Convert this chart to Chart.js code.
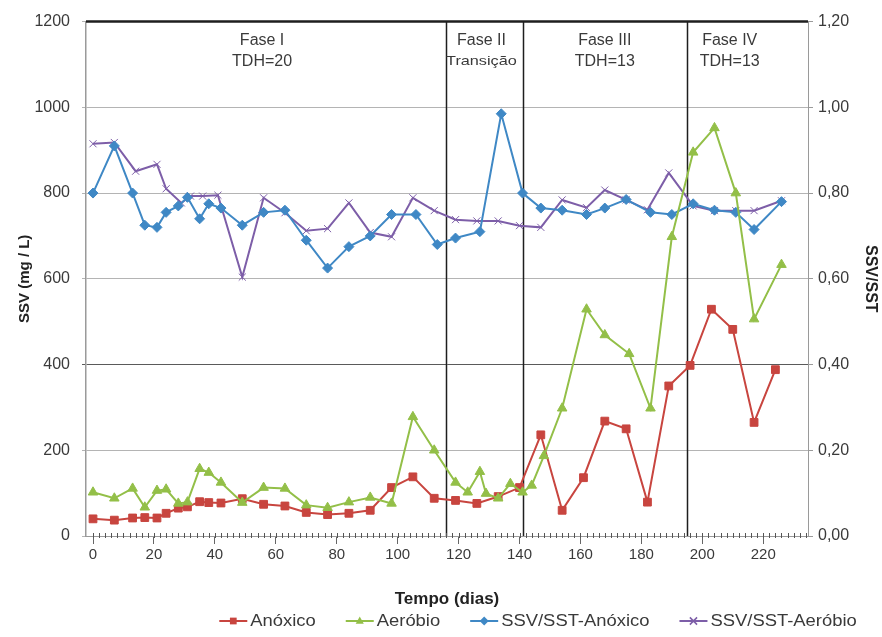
<!DOCTYPE html>
<html>
<head>
<meta charset="utf-8">
<script src="https://cdn.jsdelivr.net/npm/chart.js@4.4.1/dist/chart.umd.min.js"></script>
<style>
  html, body { margin: 0; padding: 0; background: #ffffff; }
  #wrap { width: 882px; height: 637px; }
</style>
</head>
<body>
<div id="wrap"><canvas id="grafico" width="882" height="637"></canvas></div>
<script>
// SSV (mg/L) no reator anóxico
const diasAnoxico = [0, 7, 13, 17, 21, 24, 28, 31, 35, 38, 42, 49, 56, 63, 70, 77, 84, 91, 98, 105, 112, 119, 126, 133, 140, 147, 154, 161, 168, 175, 182, 189, 196, 203, 210, 217, 224];
const ssvAnoxico  = [40, 37, 42, 43, 42, 53, 65, 68, 80, 78, 77, 87, 74, 70, 55, 50, 53, 60, 113, 138, 88, 83, 76, 92, 113, 236, 60, 136, 268, 250, 79, 350, 398, 529, 482, 265, 388];

// SSV (mg/L) no reator aeróbio
const diasAerobio = [0, 7, 13, 17, 21, 24, 28, 31, 35, 38, 42, 49, 56, 63, 70, 77, 84, 91, 98, 105, 112, 119, 123, 127, 129, 133, 137, 141, 144, 148, 154, 162, 168, 176, 183, 190, 197, 204, 211, 217, 226];
const ssvAerobio  = [102, 88, 111, 67, 106, 109, 76, 79, 157, 148, 125, 78, 113, 111, 72, 66, 79, 90, 76, 278, 200, 125, 102, 150, 99, 88, 122, 102, 118, 187, 298, 529, 469, 425, 298, 698, 895, 952, 800, 506, 633];

// Relação SSV/SST no reator anóxico
const diasRelAnoxico = [0, 7, 13, 17, 21, 24, 28, 31, 35, 38, 42, 49, 56, 63, 70, 77, 84, 91, 98, 106, 113, 119, 127, 134, 141, 147, 154, 162, 168, 175, 183, 190, 197, 204, 211, 217, 226];
const relAnoxico     = [0.80, 0.91, 0.80, 0.725, 0.72, 0.755, 0.77, 0.79, 0.74, 0.775, 0.765, 0.725, 0.755, 0.76, 0.69, 0.625, 0.675, 0.70, 0.75, 0.75, 0.68, 0.695, 0.71, 0.985, 0.80, 0.765, 0.76, 0.75, 0.765, 0.785, 0.755, 0.75, 0.775, 0.76, 0.755, 0.715, 0.78];

// Relação SSV/SST no reator aeróbio
const diasRelAerobio = [0, 7, 14, 21, 24, 29, 32, 36, 41, 49, 56, 63, 70, 77, 84, 91, 98, 105, 112, 119, 126, 133, 140, 147, 154, 162, 168, 175, 182, 189, 197, 204, 211, 217, 226];
const relAerobio     = [0.915, 0.918, 0.851, 0.867, 0.81, 0.777, 0.793, 0.793, 0.795, 0.604, 0.789, 0.754, 0.712, 0.717, 0.777, 0.708, 0.698, 0.789, 0.759, 0.738, 0.735, 0.735, 0.724, 0.72, 0.784, 0.766, 0.807, 0.784, 0.761, 0.847, 0.77, 0.759, 0.759, 0.759, 0.782];

// Eixos
const ticksDias = [0, 20, 40, 60, 80, 100, 120, 140, 160, 180, 200, 220];
const ticksSSV  = [0, 200, 400, 600, 800, 1000, 1200];
const ticksRel  = [0, 0.2, 0.4, 0.6, 0.8, 1.0, 1.2];

// Fases de operação
const limitesFase = [116, 141, 195];
const fasesTitulo = ['Fase I', 'Fase II', 'Fase III', 'Fase IV'];
const fasesSub    = ['TDH=20', 'Transição', 'TDH=13', 'TDH=13'];

const FONTE = '"Liberation Sans", Arial, Helvetica, sans-serif';
const COR_TEXTO = '#3a3a3a';

const cores = {
  anoxico: '#c8453f',
  aerobio: '#93bf48',
  relAnoxico: '#3f88c5',
  relAerobio: '#7d5ea8'
};

function pares(xs, ys) { return xs.map((d, i) => ({ x: d, y: ys[i] })); }

// Marcador simples para a legenda
function desenhaMarcador(ctx, estilo, x, y, r, cor) {
  ctx.save();
  ctx.fillStyle = cor; ctx.strokeStyle = cor; ctx.lineWidth = 1.5;
  ctx.beginPath();
  if (estilo === 'rect') {
    ctx.rect(x - r * 0.75, y - r * 0.75, r * 1.5, r * 1.5); ctx.fill();
  } else if (estilo === 'triangle') {
    ctx.moveTo(x, y - r); ctx.lineTo(x + r * 0.9, y + r * 0.6); ctx.lineTo(x - r * 0.9, y + r * 0.6); ctx.closePath(); ctx.fill();
  } else if (estilo === 'rectRot') {
    ctx.moveTo(x, y - r); ctx.lineTo(x + r, y); ctx.lineTo(x, y + r); ctx.lineTo(x - r, y); ctx.closePath(); ctx.fill();
  } else {
    ctx.moveTo(x - r * 0.8, y - r * 0.8); ctx.lineTo(x + r * 0.8, y + r * 0.8);
    ctx.moveTo(x + r * 0.8, y - r * 0.8); ctx.lineTo(x - r * 0.8, y + r * 0.8); ctx.stroke();
  }
  ctx.restore();
}

// Quadro das fases, subdivisões do eixo x e legenda
const pluginFases = {
  id: 'fases',
  beforeDatasetsDraw(chart, args, opts) {
    const { ctx, chartArea: a, scales } = chart;
    const sx = scales.x;
    ctx.save();
    ctx.strokeStyle = '#1e1e1e';
    ctx.lineWidth = 1.5;
    limitesFase.forEach(d => {
      const px = Math.round(sx.getPixelForValue(d)) + 0.5;
      ctx.beginPath(); ctx.moveTo(px, a.top); ctx.lineTo(px, a.bottom); ctx.stroke();
    });
    ctx.lineWidth = 2.5;
    ctx.beginPath(); ctx.moveTo(a.left, a.top); ctx.lineTo(a.right, a.top); ctx.stroke();

    ctx.fillStyle = COR_TEXTO;
    ctx.textAlign = 'center';
    ctx.textBaseline = 'middle';
    opts.centros.forEach((d, i) => {
      const cx = sx.getPixelForValue(d);
      ctx.font = '16px ' + FONTE;
      ctx.fillText(fasesTitulo[i], cx, a.top + 19);
      if (i === 1) {
        ctx.save();
        ctx.translate(cx, a.top + 40);
        ctx.scale(1.25, 1);
        ctx.font = '13px ' + FONTE;
        ctx.fillText(fasesSub[i], 0, 0);
        ctx.restore();
      } else {
        ctx.font = '16px ' + FONTE;
        ctx.fillText(fasesSub[i], cx, a.top + 40);
      }
    });

    // subdivisões do eixo do tempo
    ctx.strokeStyle = '#555';
    ctx.lineWidth = 1;
    for (let d = 0; d <= sx.max; d += 2) {
      const px = Math.round(sx.getPixelForValue(d)) + 0.5;
      ctx.beginPath(); ctx.moveTo(px, a.bottom - 3); ctx.lineTo(px, a.bottom + 2); ctx.stroke();
    }
    ctx.restore();
  },
  afterDraw(chart, args, opts) {
    const { ctx } = chart;
    const y = 621;
    const sxText = 1.15;
    const linha = 28, gap = 3, esp = 30;
    ctx.save();
    ctx.font = '16px ' + FONTE;
    const itens = chart.data.datasets.map(ds => ({
      ds, w: ctx.measureText(ds.label).width * sxText
    }));
    const total = itens.reduce((s, it) => s + linha + gap + it.w, 0) + esp * (itens.length - 1);
    let x = opts.legendaCentro - total / 2;
    itens.forEach(it => {
      const cor = it.ds.borderColor;
      ctx.strokeStyle = cor; ctx.lineWidth = 2;
      ctx.beginPath(); ctx.moveTo(x, y); ctx.lineTo(x + linha, y); ctx.stroke();
      desenhaMarcador(ctx, it.ds.pointStyle, x + linha / 2, y, 4.5, cor);
      ctx.save();
      ctx.translate(x + linha + gap, y);
      ctx.scale(sxText, 1);
      ctx.fillStyle = COR_TEXTO;
      ctx.textAlign = 'left'; ctx.textBaseline = 'middle';
      ctx.fillText(it.ds.label, 0, 1);
      ctx.restore();
      x += linha + gap + it.w + esp;
    });
    ctx.restore();
  }
};

new Chart(document.getElementById('grafico'), {
  type: 'line',
  data: {
    datasets: [
      {
        label: 'Anóxico', yAxisID: 'y', data: pares(diasAnoxico, ssvAnoxico),
        borderColor: cores.anoxico, backgroundColor: cores.anoxico,
        pointStyle: 'rect', pointRadius: 5.5, borderWidth: 2, pointBorderWidth: 1, order: 1
      },
      {
        label: 'Aeróbio', yAxisID: 'y', data: pares(diasAerobio, ssvAerobio),
        borderColor: cores.aerobio, backgroundColor: cores.aerobio,
        pointStyle: 'triangle', pointRadius: 5.5, borderWidth: 2, pointBorderWidth: 1, order: 0
      },
      {
        label: 'SSV/SST-Anóxico', yAxisID: 'y1', data: pares(diasRelAnoxico, relAnoxico),
        borderColor: cores.relAnoxico, backgroundColor: cores.relAnoxico,
        pointStyle: 'rectRot', pointRadius: 5, borderWidth: 2, pointBorderWidth: 1, order: 2
      },
      {
        label: 'SSV/SST-Aeróbio', yAxisID: 'y1', data: pares(diasRelAerobio, relAerobio),
        borderColor: cores.relAerobio, backgroundColor: cores.relAerobio,
        pointStyle: 'crossRot', pointRadius: 5, borderWidth: 2, pointBorderWidth: 1, order: 3
      }
    ]
  },
  options: {
    responsive: false,
    animation: false,
    devicePixelRatio: 1,
    layout: { padding: { top: 17, bottom: 27, left: 0, right: 0 } },
    elements: { line: { tension: 0 } },
    plugins: {
      legend: { display: false },
      tooltip: { enabled: false },
      fases: { centros: [55.5, 127.5, 168, 209], legendaCentro: 538 }
    },
    scales: {
      x: {
        type: 'linear', min: -2.3, max: 234.7,
        afterBuildTicks: s => { s.ticks = ticksDias.map(v => ({ value: v })); },
        afterFit: s => { s.height = 74; },
        ticks: { color: COR_TEXTO, font: { family: FONTE, size: 15 }, padding: 2, autoSkip: false, maxRotation: 0, callback: v => String(v) },
        grid: { drawOnChartArea: false, drawTicks: true, tickLength: 8, color: '#666' },
        border: { color: '#9a9a9a', width: 1 },
        title: { display: true, text: 'Tempo (dias)', color: '#222', font: { family: FONTE, size: 17, weight: 'bold' }, padding: 0 }
      },
      y: {
        type: 'linear', position: 'left', min: 0, max: 1200,
        afterBuildTicks: s => { s.ticks = ticksSSV.map(v => ({ value: v })); },
        afterFit: s => { s.width = 86; },
        ticks: { color: COR_TEXTO, font: { family: FONTE, size: 16 }, padding: 12, callback: v => String(v) },
        grid: { color: c => (c.tick && c.tick.value === 400) ? '#5a5a5a' : '#b4b4b4', tickLength: 4 },
        border: { color: '#9a9a9a', width: 1.5 },
        title: { display: true, text: 'SSV (mg / L)', color: '#222', font: { family: FONTE, size: 15, weight: 'bold' }, padding: { top: 16, bottom: 0 } }
      },
      y1: {
        type: 'linear', position: 'right', min: 0, max: 1.2,
        afterBuildTicks: s => { s.ticks = ticksRel.map(v => ({ value: v })); },
        afterFit: s => { s.width = 74; },
        ticks: { color: COR_TEXTO, font: { family: FONTE, size: 16 }, padding: 5, callback: v => v.toFixed(2).replace('.', ',') },
        grid: { drawOnChartArea: false, tickLength: 5, color: '#9a9a9a' },
        border: { color: '#9a9a9a', width: 1 },
        title: { display: true, text: 'SSV/SST', color: '#222', font: { family: FONTE, size: 16, weight: 'bold' }, padding: { top: 2, bottom: 0 } }
      }
    }
  },
  plugins: [pluginFases]
});
</script>
</body>
</html>
